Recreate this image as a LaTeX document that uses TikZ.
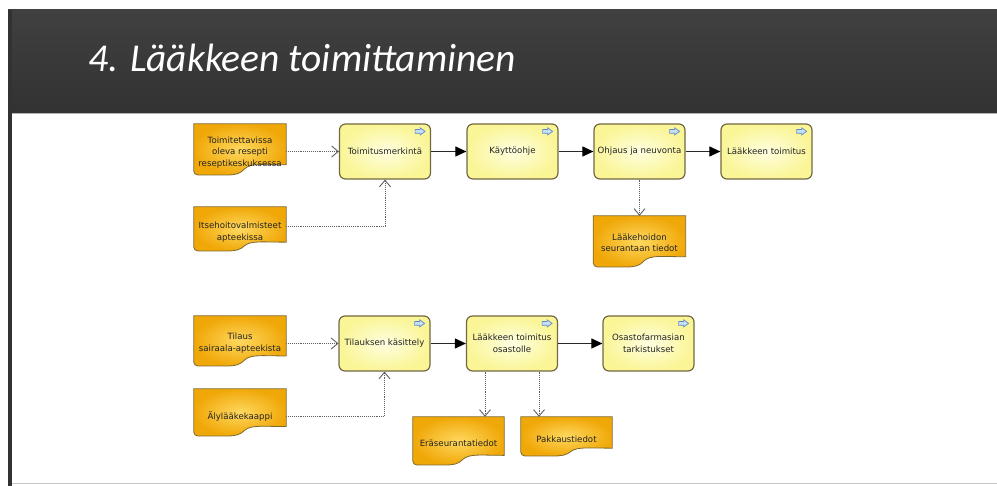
\documentclass[tikz,border=0pt]{standalone}
\usepackage{fontspec}
\setmainfont{DejaVu Sans}
\newfontfamily\titlefont{Carlito}
\usetikzlibrary{arrows.meta,calc}
\pgfdeclarelayer{pagebg}
\pgfdeclarelayer{docbg}
\pgfsetlayers{pagebg,docbg,main}
\definecolor{procin}{RGB}{255,255,225}
\definecolor{procout}{RGB}{250,245,150}
\definecolor{procline}{RGB}{115,105,65}
\definecolor{docin}{RGB}{255,216,95}
\definecolor{docout}{RGB}{240,168,8}
\definecolor{docline}{RGB}{125,105,45}
\definecolor{txt}{RGB}{35,35,35}
\definecolor{iconfill}{RGB}{200,222,245}
\definecolor{iconline}{RGB}{95,140,200}
\definecolor{bandtop}{RGB}{64,64,64}
\definecolor{bandbot}{RGB}{50,50,50}
\definecolor{flowline}{RGB}{40,40,40}
\definecolor{dotline}{RGB}{95,95,95}
\tikzset{
  boxfont/.style={font=\fontsize{8.6}{11.5}\selectfont, text=txt},
  proc/.style={boxfont, draw=procline, line width=1.2pt, rounded corners=6pt,
    minimum width=91pt, minimum height=55pt, inner sep=1pt, align=center,
    inner color=procin, outer color=procout},
  doc/.style={boxfont, minimum width=92pt, inner sep=1pt, align=center},
  docsh/.style={draw=docline, line width=0.8pt, inner color=docin, outer color=docout},
  icon/.style={draw=iconline, fill=iconfill, line width=0.7pt, line join=miter},
  flow/.style={draw=flowline, line width=1.1pt, -{Triangle[length=11pt,width=10pt,fill=black,color=black]}},
  assoc/.style={draw=dotline, line width=0.9pt, densely dotted,
    -{Straight Barb[length=6.5pt,width=11pt,line width=0.9pt]}},
}
\newcommand\docshape[2]{%
  \begin{pgfonlayer}{docbg}
  \path[docsh] let \p1=(#1.north west), \p2=(#1.north east), \p3=(0,#2),
      \n1={\x2-\x1}, \n2={\y1-\y3} in
    (\x1,\y1) -- (\x2,\y1) -- (\x2,{\y3+0.2*\n2})
    .. controls ({\x1+0.75*\n1},{\y3+0.2*\n2}) and ({\x1+0.62*\n1},{\y3+0.24*\n2}) .. ({\x1+0.55*\n1},{\y3+0.12*\n2})
    .. controls ({\x1+0.5*\n1},{\y3+0.02*\n2}) and ({\x1+0.45*\n1},\y3) .. ({\x1+0.35*\n1},\y3)
    -- ({\x1+4pt},\y3) arc[start angle=270,end angle=180,radius=4pt] -- cycle;
  \end{pgfonlayer}}
\newcommand\procicon[1]{%
  \draw[icon] ([xshift=-16pt,yshift=-8pt]#1.north east) -- ++(0pt,1.8pt) -- ++(5pt,0pt)
    -- ++(0pt,1.8pt) -- ++(5pt,-3.6pt) -- ++(-5pt,-3.6pt) -- ++(0pt,1.8pt) -- ++(-5pt,0pt) -- cycle;}
\begin{document}
\begin{tikzpicture}[x=1pt,y=-1pt]
\useasboundingbox (0,0) rectangle (997,486);
\begin{pgfonlayer}{pagebg}
  \fill[white] (0,0) rectangle (997,486);
  \shade[top color=bandtop, bottom color=bandbot] (8,10) rectangle (997,113);
  \fill[bandbot] (8,10) rectangle (12,486);
  \draw[gray!60, line width=0.8pt] (12,113) -- (997,113);
  \draw[gray!45, line width=1pt] (12,484) -- (997,484);
\end{pgfonlayer}
\node[anchor=base west, text=white, inner sep=0pt,
  font=\titlefont\itshape\fontsize{39.5}{46}\selectfont] (title) at (88,72) {4. Lääkkeen toimittaminen};

% top row processes
\node[proc] (tm) at (385,151.5) {Toimitusmerkintä};
\node[proc] (ko) at (512.5,151.5) {Käyttöohje};
\node[proc] (on) at (639.5,151.5) {Ohjaus ja neuvonta};
\node[proc] (lt) at (766.5,151.5) {Lääkkeen toimitus};
% bottom row processes
\node[proc] (tk) at (384.5,343.5) {Tilauksen käsittely};
\node[proc] (lto) at (512,343.5) {Lääkkeen toimitus\\osastolle};
\node[proc] (of) at (648.5,343.5) {Osastofarmasian\\tarkistukset};
\foreach \n in {tm,ko,on,lt,tk,lto,of}{\procicon{\n}}

% documents
\node[doc, minimum height=57pt] (d1) at (240,152.5) {Toimitettavissa\\oleva resepti\\reseptikeskuksessa};
\docshape{d1}{175}
\node[doc, minimum height=50pt] (d2) at (240,232) {Itsehoitovalmisteet\\apteekissa};
\docshape{d2}{251}
\node[doc, minimum height=54pt] (lh) at (639.5,243) {Lääkehoidon\\seurantaan tiedot};
\docshape{lh}{267}
\node[doc, minimum height=54pt] (d3) at (240,343) {Tilaus\\sairaala-apteekista};
\docshape{d3}{366}
\node[doc, minimum height=54pt] (d4) at (240,416) {Älylääkekaappi};
\docshape{d4}{436}
\node[doc, minimum height=52pt, minimum width=91pt] (er) at (458.5,443) {Eräseurantatiedot};
\docshape{er}{465}
\node[doc, minimum height=44pt, minimum width=91pt] (pk) at (566.5,439) {Pakkaustiedot};
\docshape{pk}{456}

% control flow
\draw[flow] (tm) -- (ko);
\draw[flow] (ko) -- (on);
\draw[flow] (on) -- (lt);
\draw[flow] (tk) -- (lto);
\draw[flow] (lto) -- (of);

% associations
\draw[assoc] (tm.west -| d1.east) -- (tm.west);
\draw[assoc] ([yshift=6pt]d2.east) -| (tm.south);
\draw[assoc] (on.south) -- (on.south |- lh.north);
\draw[assoc] (tk.west -| d3.east) -- (tk.west);
\draw[assoc] (d4.east) -| (tk.south);
\draw[assoc] ([xshift=-27pt]lto.south) -- ([xshift=-27pt]lto.south |- er.north);
\draw[assoc] ([xshift=27pt]lto.south) -- ([xshift=27pt]lto.south |- pk.north);
\end{tikzpicture}
\end{document}
